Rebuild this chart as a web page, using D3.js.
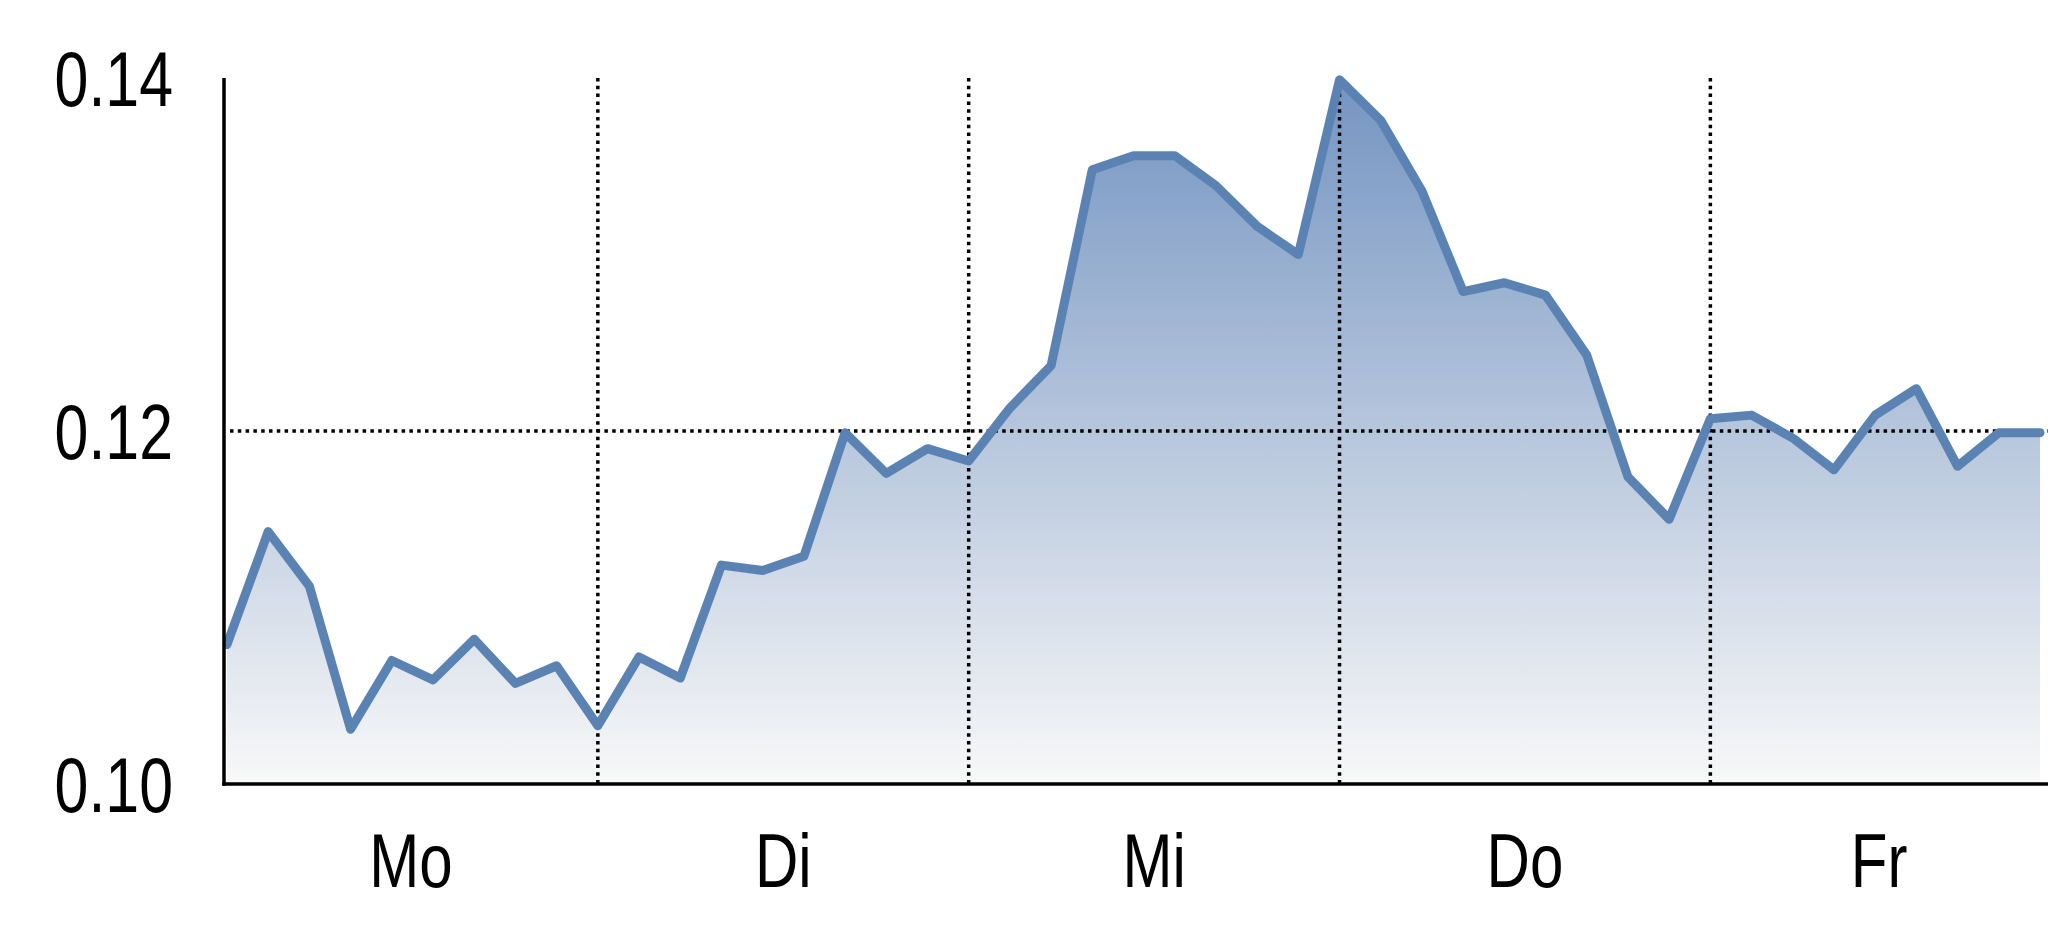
<!DOCTYPE html>
<html>
<head>
<meta charset="utf-8">
<script src="https://cdn.jsdelivr.net/npm/d3@7/dist/d3.min.js"></script>
<style>
  html, body { margin: 0; padding: 0; background: #ffffff; overflow: hidden; }
  svg { display: block; }
  text { font-family: "Liberation Sans", Arial, sans-serif; fill: #000; }
</style>
</head>
<body>
<svg id="chart" width="2048" height="937"></svg>
<script>
// ---- data ----
const days = ["Mo", "Di", "Mi", "Do", "Fr"];
const dayStartIndex = [0, 9, 18, 27, 36];
const values = [
  0.1079, 0.1143, 0.1112, 0.1031, 0.1070, 0.1059, 0.1082, 0.1057, 0.1067, 0.1033,
  0.1072, 0.1060, 0.1124, 0.1121, 0.1129, 0.1199, 0.1176, 0.1190, 0.1183,
  0.1213, 0.1237, 0.1348, 0.1356, 0.1356, 0.1339, 0.1316, 0.1300, 0.1399,
  0.1376, 0.1336, 0.1279, 0.1284, 0.1277, 0.1243, 0.1174, 0.1150, 0.1207,
  0.1209, 0.1196, 0.1178, 0.1209, 0.1224, 0.1180, 0.1199, 0.1199
];
const yTicks = [0.10, 0.12, 0.14];
const yTickLabels = ["0.10", "0.12", "0.14"];
const yGrid = [0.12];

// ---- layout ----
const W = 2048, H = 937;
const axisLeft = 224, plotTop = 78, plotBottom = 784, axisRight = 2048;
const narrow = 0.79;

const x = d3.scaleLinear().domain([0, values.length - 1]).range([227, 2040]);
const y = d3.scaleLinear().domain([0.10, 0.14]).range([plotBottom, plotTop]);

const svg = d3.select("#chart");

const defs = svg.append("defs");
const grad = defs.append("linearGradient")
  .attr("id", "fillGrad")
  .attr("gradientUnits", "userSpaceOnUse")
  .attr("x1", 0).attr("x2", 0)
  .attr("y1", y(0.14)).attr("y2", y(0.10));
grad.append("stop").attr("offset", "0%").attr("stop-color", "#7494c1");
grad.append("stop").attr("offset", "100%").attr("stop-color", "#f8f8f8");

const data = values.map((v, i) => ({ i, v }));

// area
svg.append("path")
  .datum(data)
  .attr("fill", "url(#fillGrad)")
  .attr("d", d3.area().x(d => x(d.i)).y0(y(0.10)).y1(d => y(d.v)));

// grid lines (dotted)
svg.append("g").selectAll("line")
  .data(yGrid).join("line")
  .attr("x1", axisLeft + 6).attr("x2", axisRight)
  .attr("y1", d => y(d)).attr("y2", d => y(d))
  .attr("stroke", "#000").attr("stroke-width", 3.5)
  .attr("stroke-dasharray", "3.5,4.3");

svg.append("g").selectAll("line")
  .data(dayStartIndex.slice(1)).join("line")
  .attr("x1", d => x(d)).attr("x2", d => x(d))
  .attr("y1", plotTop).attr("y2", plotBottom)
  .attr("stroke", "#000").attr("stroke-width", 3.5)
  .attr("stroke-dasharray", "3.5,4.3");

// line
svg.append("path")
  .datum(data)
  .attr("fill", "none")
  .attr("stroke", "#5a83b4")
  .attr("stroke-width", 9)
  .attr("stroke-linejoin", "round")
  .attr("stroke-linecap", "round")
  .attr("d", d3.line().x(d => x(d.i)).y(d => y(d.v)));

// axes
svg.append("line")
  .attr("x1", axisLeft).attr("x2", axisLeft)
  .attr("y1", plotTop).attr("y2", plotBottom + 1.75)
  .attr("stroke", "#000").attr("stroke-width", 3.5);
svg.append("line")
  .attr("x1", axisLeft - 1.75).attr("x2", axisRight)
  .attr("y1", plotBottom).attr("y2", plotBottom)
  .attr("stroke", "#000").attr("stroke-width", 3.5);

// y tick labels
svg.append("g").selectAll("text")
  .data(yTicks).join("text")
  .attr("transform", d => `translate(173,${y(d)}) scale(${narrow},1)`)
  .attr("dy", "0.36em")
  .attr("text-anchor", "end")
  .attr("font-size", 77)
  .text((d, i) => yTickLabels[i]);

// x day labels centred in their bands
const bounds = [axisLeft].concat(dayStartIndex.slice(1).map(i => x(i))).concat([axisRight]);
svg.append("g").selectAll("text")
  .data(days).join("text")
  .attr("transform", (d, i) => `translate(${(bounds[i] + bounds[i + 1]) / 2},887) scale(${narrow},1)`)
  .attr("text-anchor", "middle")
  .attr("font-size", 76)
  .text(d => d);
</script>
</body>
</html>
